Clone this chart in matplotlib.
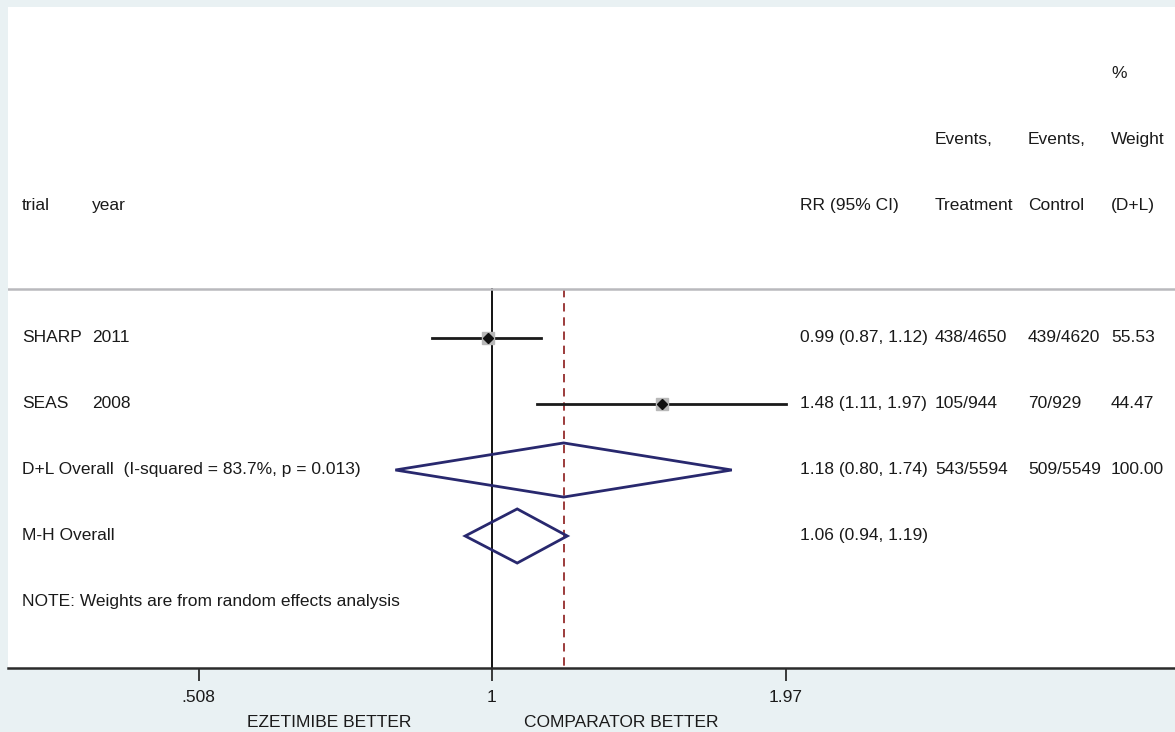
import numpy as np
import matplotlib
matplotlib.use("Agg")
import matplotlib.pyplot as plt
from matplotlib.patches import Polygon
from matplotlib.transforms import blended_transform_factory

plt.rcParams["font.family"] = ["Liberation Sans", "DejaVu Sans"]

# individual trials
trials = ["SHARP", "SEAS"]
years = ["2011", "2008"]
rr = [0.99, 1.48]
rr_lo = [0.87, 1.11]
rr_hi = [1.12, 1.97]
events_trt = ["438/4650", "105/944"]
events_ctl = ["439/4620", "70/929"]
weights = [55.53, 44.47]

# pooled estimates
pooled_names = ["D+L Overall  (I-squared = 83.7%, p = 0.013)", "M-H Overall"]
pooled_rr = [1.18, 1.06]
pooled_lo = [0.80, 0.94]
pooled_hi = [1.74, 1.19]
pooled_trt = ["543/5594", ""]
pooled_ctl = ["509/5549", ""]
pooled_w = [100.00, None]

xticks = [0.508, 1.0, 1.97]
xtick_labels = [".508", "1", "1.97"]
favours = ["EZETIMIBE BETTER", "COMPARATOR BETTER"]
favours_x = [0.686, 1.347]
note = "NOTE: Weights are from random effects analysis"

BG = "#e9f1f3"
NAVY = "#28286e"
FS = 12.5

# column anchors (axes fraction)
COL_TRIAL, COL_YEAR = 0.012, 0.072
COL_RR, COL_TRT, COL_CTL, COL_W = 0.6787, 0.7943, 0.874, 0.9452

fig = plt.figure(figsize=(11.75, 7.32), dpi=100, facecolor=BG)
ax = fig.add_axes([8 / 1175, 1 - 668 / 732, 1 - 8 / 1175, (668 - 7) / 732])
ax.set_facecolor("white")
ax.set_xscale("log")
ax.set_xlim(0.327, 4.843)
ax.set_ylim(6, -4.015)

tr = blended_transform_factory(ax.transAxes, ax.transData)

def row_text(x, y, s):
    ax.text(x, y, s, transform=tr, ha="left", va="center", fontsize=FS, color="#1a1a1a")

# headers
row_text(COL_TRIAL, -1, "trial")
row_text(COL_YEAR, -1, "year")
row_text(COL_RR, -1, "RR (95% CI)")
row_text(COL_TRT, -2, "Events,")
row_text(COL_TRT, -1, "Treatment")
row_text(COL_CTL, -2, "Events,")
row_text(COL_CTL, -1, "Control")
row_text(COL_W, -3, "%")
row_text(COL_W, -2, "Weight")
row_text(COL_W, -1, "(D+L)")
ax.axhline(0.26, color="#b9b9bd", lw=1.8)

# reference lines
ax.plot([1, 1], [0.26, 6], color="black", lw=1.3, zorder=1)
ax.plot([pooled_rr[0]] * 2, [0.26, 6], color="#8b1a1a", lw=1.2,
        ls=(0, (5, 3.5)), zorder=1)

# trial rows
for i in range(len(trials)):
    y = i + 1
    ax.plot([rr_lo[i], rr_hi[i]], [y, y], color="#1a1a1a", lw=2.0, zorder=2)
    ax.plot(rr[i], y, marker="s", ms=9, color="#b8b8b8", mec="#b8b8b8", zorder=3)
    ax.plot(rr[i], y, marker="D", ms=5, color="#111111", zorder=4)
    row_text(COL_TRIAL, y, trials[i])
    row_text(COL_YEAR, y, years[i])
    row_text(COL_RR, y, f"{rr[i]:.2f} ({rr_lo[i]:.2f}, {rr_hi[i]:.2f})")
    row_text(COL_TRT, y, events_trt[i])
    row_text(COL_CTL, y, events_ctl[i])
    row_text(COL_W, y, f"{weights[i]:.2f}")

# pooled diamonds
h = 0.41
for j in range(len(pooled_names)):
    y = len(trials) + 1 + j
    pts = [(pooled_lo[j], y), (pooled_rr[j], y - h), (pooled_hi[j], y), (pooled_rr[j], y + h)]
    ax.add_patch(Polygon(pts, closed=True, fill=False, ec=NAVY, lw=2.0, zorder=3))
    row_text(COL_TRIAL, y, pooled_names[j])
    row_text(COL_RR, y, f"{pooled_rr[j]:.2f} ({pooled_lo[j]:.2f}, {pooled_hi[j]:.2f})")
    row_text(COL_TRT, y, pooled_trt[j])
    row_text(COL_CTL, y, pooled_ctl[j])
    if pooled_w[j] is not None:
        row_text(COL_W, y, f"{pooled_w[j]:.2f}")

row_text(COL_TRIAL, 5, note)

# axis styling
for side in ["top", "right", "left"]:
    ax.spines[side].set_visible(False)
ax.spines["bottom"].set_color("#2b2b2b")
ax.spines["bottom"].set_linewidth(1.8)
ax.set_yticks([])
ax.set_xticks(xticks)
ax.set_xticklabels(xtick_labels, fontsize=FS, color="#1a1a1a")
ax.xaxis.set_minor_locator(matplotlib.ticker.NullLocator())
ax.tick_params(axis="x", direction="out", length=9, width=1.3, pad=7, color="#2b2b2b")

for s, xv in zip(favours, favours_x):
    ax.text(xv, -0.082, s, transform=blended_transform_factory(ax.transData, ax.transAxes),
            ha="center", va="center", fontsize=FS, color="#1a1a1a")

fig.savefig("out.png", dpi=100, facecolor=BG)
